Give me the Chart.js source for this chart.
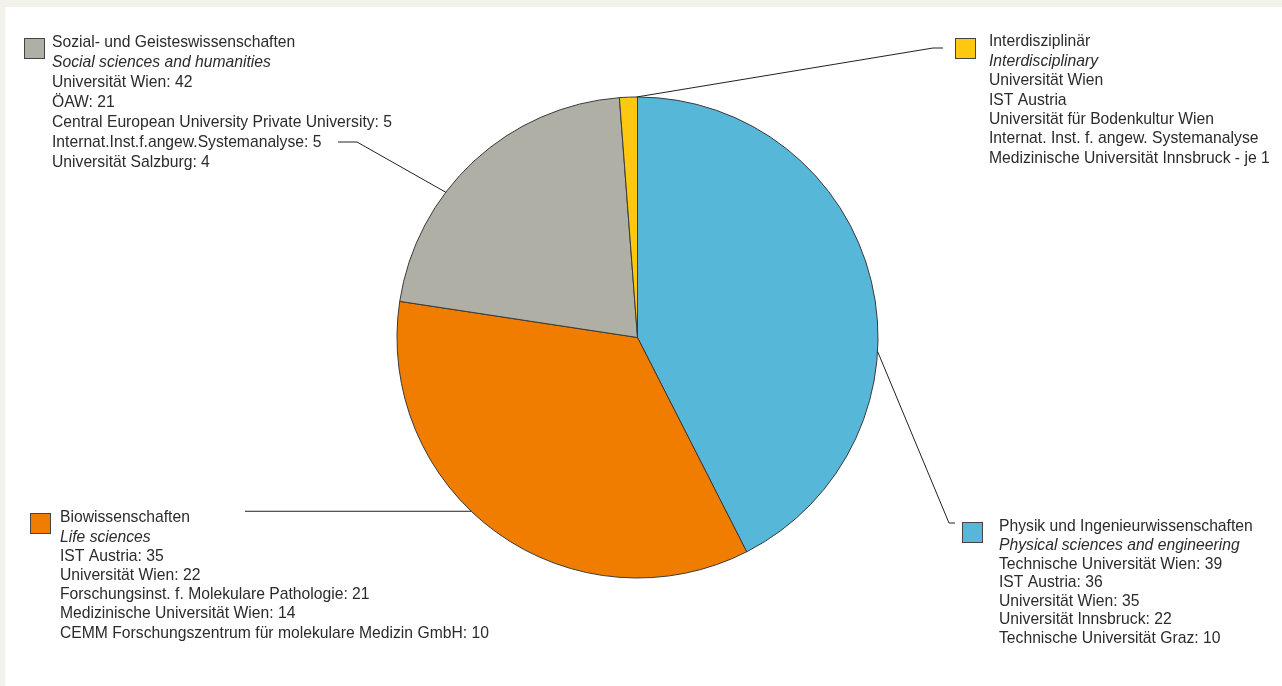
<!DOCTYPE html>
<html>
<head>
<meta charset="utf-8">
<script src="https://cdn.jsdelivr.net/npm/chart.js@4"></script>
<style>
  html, body { margin: 0; padding: 0; background: #fff; }
  #wrap { width: 1282px; height: 686px; }
</style>
</head>
<body>
<div id="wrap"><canvas id="myChart" width="1282" height="686"></canvas></div>
<script>
// Fächer (Reihenfolge im Uhrzeigersinn ab 12 Uhr)
const categories = ['Physik und Ingenieurwissenschaften', 'Biowissenschaften', 'Sozial- und Geisteswissenschaften', 'Interdisziplinär'];
const englishNames = ['Physical sciences and engineering', 'Life sciences', 'Social sciences and humanities', 'Interdisciplinary'];
const shares = [42.5, 34.9, 21.4, 1.2];
const colors = ['#57b7d9', '#f07d00', '#b0afa5', '#fdc80f'];

const institutions = [
    ['Technische Universität Wien: 39', 'IST Austria: 36', 'Universität Wien: 35', 'Universität Innsbruck: 22', 'Technische Universität Graz: 10'],
    ['IST Austria: 35', 'Universität Wien: 22', 'Forschungsinst. f. Molekulare Pathologie: 21', 'Medizinische Universität Wien: 14', 'CEMM Forschungszentrum für molekulare Medizin GmbH: 10'],
    ['Universität Wien: 42', 'ÖAW: 21', 'Central European University Private University: 5', 'Internat.Inst.f.angew.Systemanalyse: 5', 'Universität Salzburg: 4'],
    ['Universität Wien', 'IST Austria', 'Universität für Bodenkultur Wien', 'Internat. Inst. f. angew. Systemanalyse', 'Medizinische Universität Innsbruck - je 1']
];

// Lage der Beschriftungen (box, text, zeilenabstand, leader)
const labelLayout = [
    { box: [962, 522], tx: 999, ty: 527, lh: 18.6, at: 0.61, leader: [[949, 523], [955, 523]] },
    { box: [30, 513], tx: 60, ty: 518, lh: 19.2, at: 0.563, flat: true, leader: [[245, 512]] },
    { box: [24, 38], tx: 52, ty: 43, lh: 20, at: 0.37, leader: [[357, 142], [338, 142]] },
    { box: [955, 38], tx: 989, ty: 42, lh: 19.4, at: 0.95, leader: [[933, 48], [943, 48]] }
];

const FONT = '"Liberation Sans", Arial, sans-serif';

const labelsPlugin = {
    id: 'labels',
    beforeDraw(chart) {
        const c = chart.ctx;
        c.save();
        c.fillStyle = '#fff';
        c.fillRect(0, 0, chart.width, chart.height);
        c.fillStyle = '#f2f1ea';
        c.fillRect(0, 0, chart.width, 7);
        c.fillRect(0, 0, 5, chart.height);
        c.restore();
    },
    afterDatasetsDraw(chart) {
        const c = chart.ctx;
        const arcs = chart.getDatasetMeta(0).data;
        c.save();
        arcs.forEach((arc, i) => {
            const lay = labelLayout[i];
            // leader line from slice edge
            const a = arc.startAngle + lay.at * (arc.endAngle - arc.startAngle);
            const r = arc.outerRadius;
            const ax = arc.x + Math.cos(a) * r;
            const ay = arc.y + Math.sin(a) * r;
            c.beginPath();
            c.moveTo(ax, ay);
            lay.leader.forEach(p => c.lineTo(p[0], lay.flat ? ay : p[1]));
            c.strokeStyle = '#222';
            c.lineWidth = 1;
            c.stroke();

            // colour box
            c.fillStyle = colors[i];
            c.fillRect(lay.box[0] + 0.5, lay.box[1] + 0.5, 20, 20);
            c.strokeStyle = '#444';
            c.strokeRect(lay.box[0] + 0.5, lay.box[1] + 0.5, 20, 20);

            // text
            const lines = [categories[i], englishNames[i]].concat(institutions[i]);
            c.fillStyle = '#2b2b2b';
            c.textBaseline = 'middle';
            c.textAlign = 'left';
            lines.forEach((t, j) => {
                c.font = (j === 1 ? 'italic ' : '') + '15.7px ' + FONT;
                c.fillText(t, lay.tx, lay.ty + j * lay.lh);
            });
        });
        c.restore();
    }
};

const ctx = document.querySelector('#myChart').getContext('2d');

const myChart = new Chart(ctx, {
    type: 'pie',
    data: {
        labels: categories,
        datasets: [{
            data: shares,
            backgroundColor: colors,
            borderColor: '#3a3a3a',
            borderWidth: 1
        }]
    },
    options: {
        responsive: false,
        animation: false,
        radius: 240.5,
        layout: { padding: { top: 97, bottom: 108, left: 200, right: 207 } },
        plugins: {
            legend: { display: false },
            tooltip: { enabled: false }
        }
    },
    plugins: [labelsPlugin]
});
</script>
</body>
</html>
